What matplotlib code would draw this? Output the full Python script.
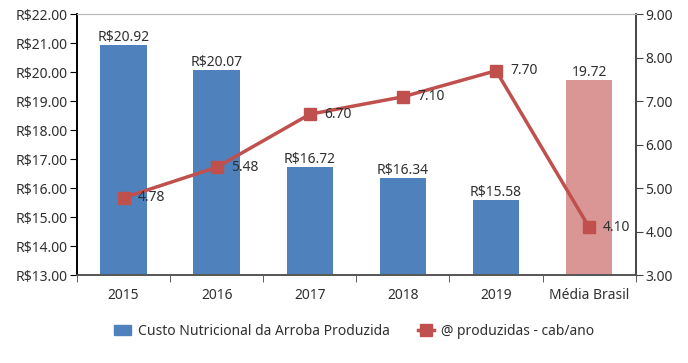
import matplotlib.pyplot as plt
import numpy as np
from matplotlib.patches import Patch
from matplotlib.lines import Line2D

categorias = ['2015', '2016', '2017', '2018', '2019', 'Média Brasil']
custo = [20.92, 20.07, 16.72, 16.34, 15.58, 19.72]
custo_labels = ['R$20.92', 'R$20.07', 'R$16.72', 'R$16.34', 'R$15.58', '19.72']
arrobas = [4.78, 5.48, 6.70, 7.10, 7.70, 4.10]

azul = '#4F81BD'
rosa = '#D99694'
vermelho = '#C0504D'
texto = '#303030'
fs = 10

plt.rcParams['font.family'] = ['Noto Sans', 'DejaVu Sans']
plt.rcParams['font.size'] = fs

fig = plt.figure(figsize=(6.88, 3.63), dpi=100)
ax = fig.add_axes([0.112, 0.242, 0.812, 0.719])
ax2 = ax.twinx()

x = np.arange(len(categorias))
cores = [azul] * 5 + [rosa]
ax.bar(x, custo, width=0.5, color=cores, zorder=2)
for xi, v, lab in zip(x, custo, custo_labels):
    ax.text(xi, v + 0.02, lab, ha='center', va='bottom', color=texto, fontsize=fs)

ax.set_xlim(-0.5, len(categorias) - 0.5)
ax.set_ylim(13, 22)
ax.set_yticks(np.arange(13, 23, 1))
ax.set_yticklabels([f'R${v:.2f}' for v in np.arange(13, 23, 1)])
ax.set_xticks(x)
ax.set_xticklabels(categorias)
ax.set_xticks(np.arange(-0.5, len(categorias), 1), minor=True)
ax.tick_params(axis='x', which='major', length=0, pad=9, colors=texto)
ax.tick_params(axis='x', which='minor', length=5, direction='out', color='#444444')
ax.tick_params(axis='y', length=5, direction='out', colors=texto, color='black', pad=2)

ax2.plot(x, arrobas, color=vermelho, lw=2.5, marker='s', markersize=9, zorder=3)
for xi, v in zip(x, arrobas):
    ax2.text(xi + 0.15, v, f'{v:.2f}', ha='left', va='center', color=texto, fontsize=fs)
ax2.set_ylim(3, 9)
ax2.set_yticks(np.arange(3, 10, 1))
ax2.set_yticklabels([f'{v:.2f}' for v in np.arange(3, 10, 1)])
ax2.tick_params(axis='y', length=5, direction='out', colors=texto, color='#444444', pad=2)

for a in (ax, ax2):
    a.spines['top'].set_color('#BBBBBB')
    a.spines['top'].set_linewidth(0.8)
    a.spines['left'].set_color('black')
    a.spines['left'].set_linewidth(1.2)
    a.spines['right'].set_color('#444444')
    a.spines['right'].set_linewidth(1.2)
    a.spines['bottom'].set_color('#555555')
    a.spines['bottom'].set_linewidth(1.2)

handles = [Patch(color=azul, label='Custo Nutricional da Arroba Produzida'),
           Line2D([0], [0], color=vermelho, lw=2.5, marker='s', markersize=8,
                  label='@ produzidas - cab/ano')]
fig.legend(handles=handles, loc='center', bbox_to_anchor=(0.515, 0.088), ncol=2,
           frameon=False, fontsize=fs, handlelength=1.2, handletextpad=0.5,
           columnspacing=2.0, labelcolor=texto)

fig.savefig('out.png', dpi=100)
